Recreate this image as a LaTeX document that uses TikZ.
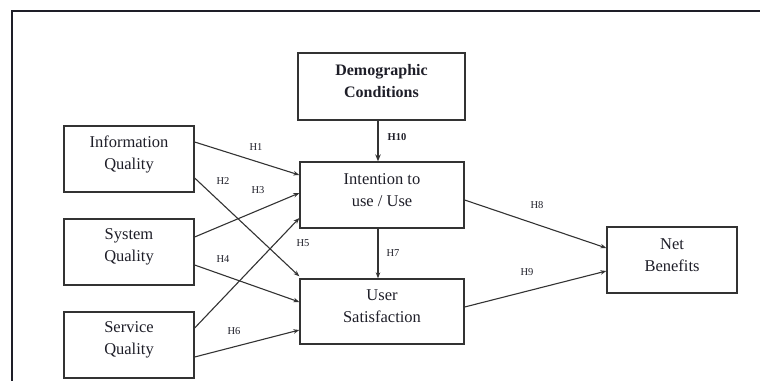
\documentclass[tikz,border=0pt]{standalone}
\usepackage{fontspec}
\setmainfont{Liberation Serif}
\usetikzlibrary{arrows.meta}
\definecolor{ink}{HTML}{1E1E28}
\definecolor{edge}{HTML}{333333}
\begin{document}
\begin{tikzpicture}[x=1pt,y=-1pt,
  box/.style={draw=edge, line width=1.3pt, minimum width=130pt, minimum height=66pt, inner sep=0pt},
  wide/.style={box, minimum width=164pt},
  txt/.style={align=center, text=ink, font=\fontsize{16.5}{22}\selectfont, yshift=5pt},
  btxt/.style={txt, font=\fontsize{16}{22}\selectfont\bfseries},
  hyp/.style={text=ink, font=\fontsize{10.5}{12}\selectfont, inner sep=1pt},
  conn/.style={draw=edge, line width=1.1pt, -{Stealth[length=6pt,width=4.5pt]}},
  frame/.style={draw=ink, line width=1.3pt}]
\useasboundingbox (0,0) rectangle (760,381);
% frame
\coordinate (fr1) at (760,11);
\coordinate (fr2) at (12,11);
\coordinate (fr3) at (12,381);
\draw[frame] (fr1) -- (fr2) -- (fr3);
% boxes
\node[box, label={[txt]center:Information\\Quality}] (iq) at (129,159) {};
\node[box, label={[txt]center:System\\Quality}] (sq) at (129,252) {};
\node[box, label={[txt]center:Service\\Quality}] (sv) at (129,345) {};
\node[box, minimum width=167pt, minimum height=67pt, line width=2.8pt, label={[btxt]center:Demographic\\Conditions}] (dc) at (381.5,86.5) {};
\node[wide, label={[txt]center:Intention to\\use / Use}] (it) at (382,195) {};
\node[wide, minimum height=65pt, label={[txt]center:User\\Satisfaction}] (us) at (382,311.5) {};
\node[box, label={[txt]center:Net\\Benefits}] (nb) at (672,260) {};
% connectors
\draw[conn, line width=1.8pt, -{Stealth[length=7pt,width=5.5pt]}] ([xshift=-3.5pt]dc.south) -- ([xshift=-4pt]it.north);
\draw[conn] ([yshift=17pt]iq.east) -- ([yshift=20pt]it.west);
\draw[conn] ([yshift=-19pt]iq.east) -- ([yshift=2pt]us.north west);
\draw[conn] ([yshift=15pt]sq.east) -- ([yshift=2pt]it.west);
\draw[conn] ([yshift=-13pt]sq.east) -- ([yshift=9.5pt]us.west);
\draw[conn] ([yshift=17pt]sv.east) -- ([yshift=-23pt]it.west);
\draw[conn] ([yshift=-12pt]sv.east) -- ([yshift=-18.5pt]us.west);
\draw[conn] ([xshift=-4pt]it.south) -- ([xshift=-4pt]us.north);
\draw[conn] ([yshift=-5pt]it.east) -- ([yshift=12pt]nb.west);
\draw[conn] ([yshift=4.5pt]us.east) -- ([yshift=-11pt]nb.west);
% labels
\node[hyp, font=\fontsize{10.5}{12}\selectfont\bfseries] (h10) at (397,137) {H10};
\node[hyp] (h1) at (256,147) {H1};
\node[hyp] (h2) at (223,181) {H2};
\node[hyp] (h3) at (258,190) {H3};
\node[hyp] (h4) at (223,259) {H4};
\node[hyp] (h5) at (303,243) {H5};
\node[hyp] (h6) at (234,331) {H6};
\node[hyp] (h7) at (393,253) {H7};
\node[hyp] (h8) at (537,205) {H8};
\node[hyp] (h9) at (527,272) {H9};
\end{tikzpicture}
\end{document}
